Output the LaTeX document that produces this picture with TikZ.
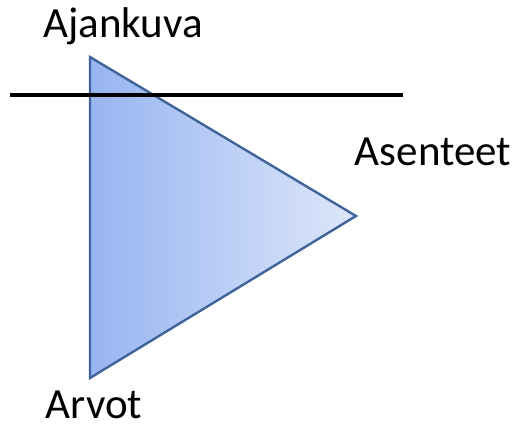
\documentclass[tikz,border=0pt]{standalone}
\usepackage{fontspec}
\setmainfont{Carlito}
\definecolor{triL}{HTML}{97B5F1}
\definecolor{triR}{HTML}{DEE7FA}
\definecolor{triB}{HTML}{40649A}
\tikzset{lbl/.style={anchor=base, inner sep=0pt, font=\fontsize{43}{43}\selectfont}}
\begin{document}
\begin{tikzpicture}[x=1pt,y=-1pt]
\useasboundingbox (0,0) rectangle (515,428);
\coordinate (T) at (90,57);
\coordinate (B) at (90,378);
\coordinate (R) at (356,216);
\shade[left color=triL, right color=triR] (T) -- (R) -- (B) -- cycle;
\draw[triB, line width=2.4pt, line join=miter] (T) -- (R) -- (B) -- cycle;
\coordinate (L1) at (10,95);
\coordinate (L2) at (403,95);
\draw[black, line width=3.2pt] (L1) -- (L2);
\node[lbl] (aj) at (123,38) {Ajankuva};
\node[lbl] (as) at (433,166) {Asenteet};
\node[lbl] (ar) at (94,418) {Arvot};
\end{tikzpicture}
\end{document}
